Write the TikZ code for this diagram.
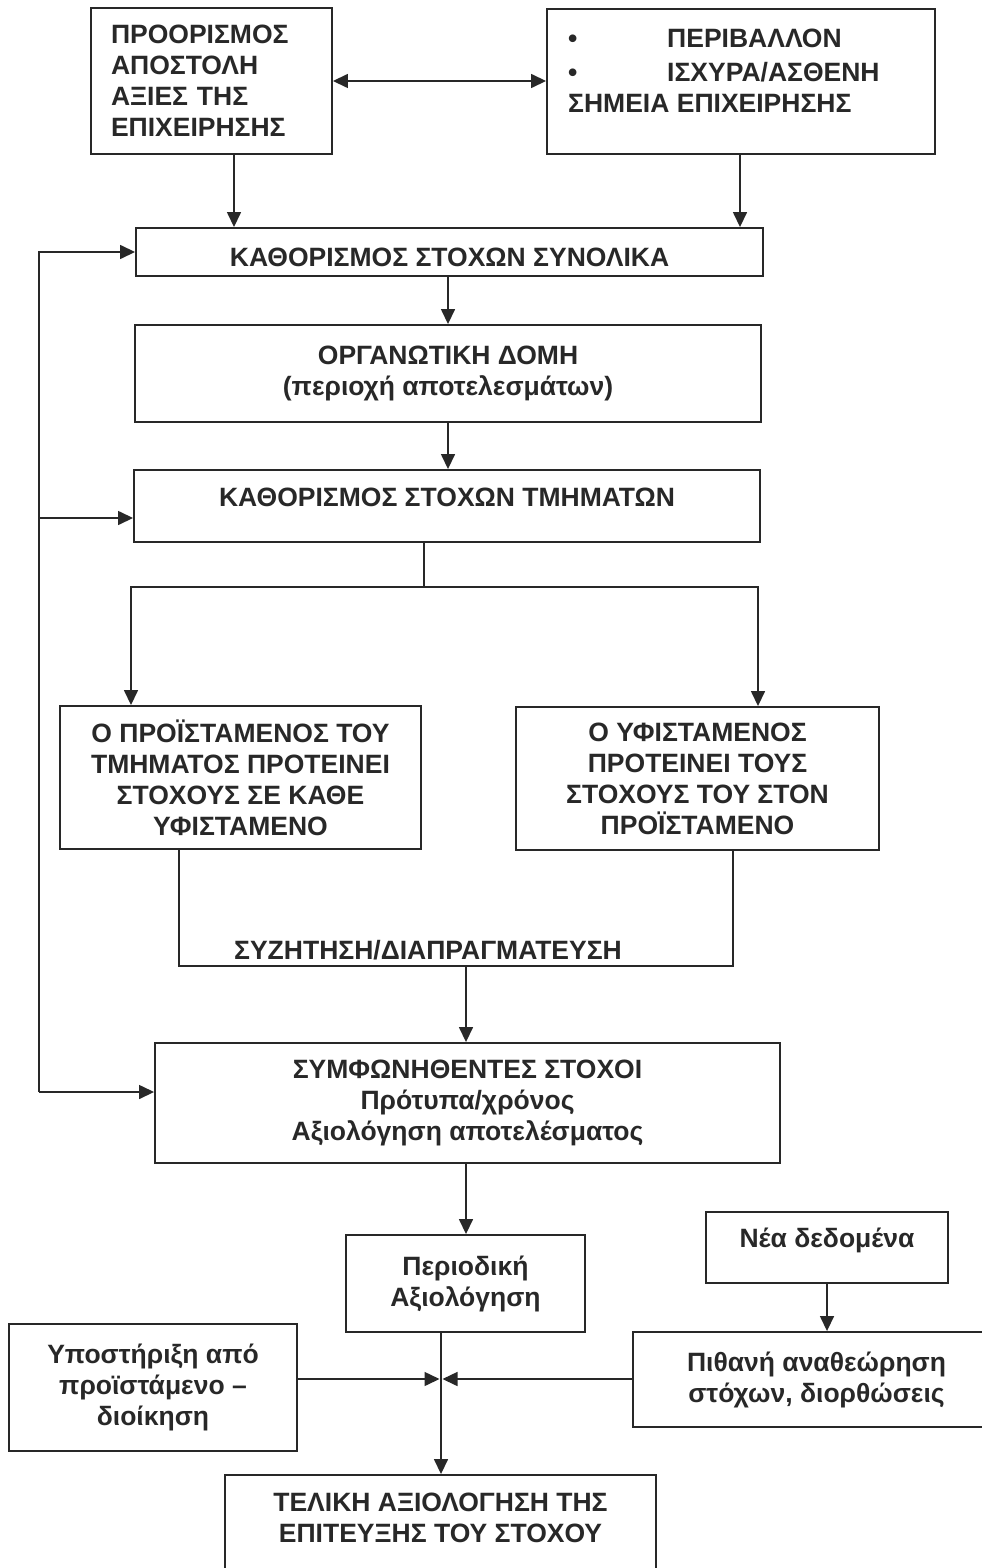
\documentclass[tikz,border=0pt]{standalone}
\usepackage{fontspec}
\setmainfont{Liberation Sans}
\usetikzlibrary{arrows.meta,calc}
\definecolor{ink}{RGB}{40,40,40}
\begin{document}
\begin{tikzpicture}[x=1pt,y=-1pt,
  box/.style={draw=ink, line width=1.9pt, inner sep=0pt, align=center, text=ink,
    font=\fontsize{26.5}{31}\selectfont\bfseries},
  txt/.style={inner sep=0pt, align=center, text=ink, font=\fontsize{26.5}{31}\selectfont\bfseries},
  conn/.style={draw=ink, line width=1.5pt},
  arr/.style={conn, -{Triangle[length=15pt,width=14pt]}},
  darr/.style={conn, {Triangle[length=15pt,width=14pt]}-{Triangle[length=15pt,width=14pt]}},
]
\clip (0,0) rectangle (982,1568);
\fill[white] (0,0) rectangle (982,1568);

% boxes
\node[box, minimum width=241pt, minimum height=146pt, text width=201pt, inner xsep=20pt, align=left] (A) at (211.5,81)
  {ΠΡΟΟΡΙΣΜΟΣ\\ΑΠΟΣΤΟΛΗ\\ΑΞΙΕΣ ΤΗΣ\\ΕΠΙΧΕΙΡΗΣΗΣ};
\node[box, minimum width=388pt, minimum height=145pt] (B) at (741,81.5) {};
\node[txt, align=left, anchor=north west] (Bt) at (568,28.5)
  {\makebox[99pt][l]{•}ΠΕΡΙΒΑΛΛΟΝ\\[3pt]\makebox[99pt][l]{•}ΙΣΧΥΡΑ/ΑΣΘΕΝΗ\\ΣΗΜΕΙΑ ΕΠΙΧΕΙΡΗΣΗΣ};
\node[box, minimum width=627pt, minimum height=48pt, text height=28.6pt] (C) at (449.5,252)
  {ΚΑΘΟΡΙΣΜΟΣ ΣΤΟΧΩΝ ΣΥΝΟΛΙΚΑ};
\node[box, minimum width=626pt, minimum height=97pt] (D) at (448,373.5)
  {ΟΡΓΑΝΩΤΙΚΗ ΔΟΜΗ\\(περιοχή αποτελεσμάτων)};
\node[box, minimum width=626pt, minimum height=72pt, text depth=18pt] (E) at (447,506)
  {ΚΑΘΟΡΙΣΜΟΣ ΣΤΟΧΩΝ ΤΜΗΜΑΤΩΝ};
\node[box, minimum width=361pt, minimum height=143pt] (F) at (240.5,777.5)
  {Ο ΠΡΟΪΣΤΑΜΕΝΟΣ ΤΟΥ\\ΤΜΗΜΑΤΟΣ ΠΡΟΤΕΙΝΕΙ\\ΣΤΟΧΟΥΣ ΣΕ ΚΑΘΕ\\ΥΦΙΣΤΑΜΕΝΟ};
\node[box, minimum width=363pt, minimum height=143pt] (G) at (697.5,778.5)
  {Ο ΥΦΙΣΤΑΜΕΝΟΣ\\ΠΡΟΤΕΙΝΕΙ ΤΟΥΣ\\ΣΤΟΧΟΥΣ ΤΟΥ ΣΤΟΝ\\ΠΡΟΪΣΤΑΜΕΝΟ};
\node[txt] (disc) at (428,950) {ΣΥΖΗΤΗΣΗ/ΔΙΑΠΡΑΓΜΑΤΕΥΣΗ};
\node[box, minimum width=625pt, minimum height=120pt] (H) at (467.5,1103)
  {ΣΥΜΦΩΝΗΘΕΝΤΕΣ ΣΤΟΧΟΙ\\Πρότυπα/χρόνος\\Αξιολόγηση αποτελέσματος};
\node[box, minimum width=239pt, minimum height=97pt] (I) at (465.5,1283.5)
  {Περιοδική\\Αξιολόγηση};
\node[box, minimum width=242pt, minimum height=71pt, text depth=19.5pt] (N) at (827,1247.5)
  {Νέα δεδομένα};
\node[box, minimum width=367pt, minimum height=95pt] (P) at (816.5,1379.5)
  {Πιθανή αναθεώρηση\\στόχων, διορθώσεις};
\node[box, minimum width=288pt, minimum height=127pt] (S) at (153,1387.5)
  {Υποστήριξη από\\προϊστάμενο --\\διοίκηση};
\node[box, minimum width=431pt, minimum height=125pt] (J) at (440.5,1537.5) {};
\node[txt] (Jt) at (440.5,1517.5) {ΤΕΛΙΚΗ ΑΞΙΟΛΟΓΗΣΗ ΤΗΣ\\ΕΠΙΤΕΥΞΗΣ ΤΟΥ ΣΤΟΧΟΥ};

% helper coordinates
\coordinate (xAC) at (234,0);
\coordinate (xBC) at (740,0);
\coordinate (split) at (424,587);
\coordinate (xL) at (131,0);
\coordinate (xR) at (758,0);
\coordinate (fb) at (39,0);
\coordinate (yE) at (0,518);
\coordinate (yH) at (0,1092);
\coordinate (xF) at (179,0);
\coordinate (xG) at (733,0);
\coordinate (ybar) at (0,966);
\coordinate (xM) at (466,0);
\coordinate (xJ) at (441,0);
\coordinate (jn) at (441,1379);

% connectors
\draw[darr] (A.east) -- (B.west |- A.east);
\draw[arr] (A.south -| xAC) -- (C.north -| xAC);
\draw[arr] (B.south -| xBC) -- (C.north -| xBC);
\draw[arr] (C.south -| D.north) -- (D.north);
\draw[arr] (D.south) -- (D.south |- E.north);
\draw[conn] (E.south -| split) -- (split);
\draw[arr] (split) -| (F.north -| xL);
\draw[arr] (split) -| (G.north -| xR);
\draw[arr, line join=miter] (fb |- yH) -- (fb |- C.west) -- (C.west);
\draw[arr] (fb |- yE) -- (E.west |- yE);
\draw[arr] (fb |- yH) -- (H.west |- yH);
\draw[conn] (F.south -| xF) -- (xF |- ybar) -- (xG |- ybar) -- (G.south -| xG);
\draw[arr] (xM |- ybar) -- (H.north -| xM);
\draw[arr] (H.south -| xM) -- (I.north -| xM);
\draw[arr] (I.south -| xJ) -- (J.north -| xJ);
\draw[arr, shorten >=1.5pt] (S.east |- jn) -- (jn);
\draw[arr, shorten >=1.5pt] (P.west |- jn) -- (jn);
\draw[arr] (N.south) -- (N.south |- P.north);
\end{tikzpicture}
\end{document}
